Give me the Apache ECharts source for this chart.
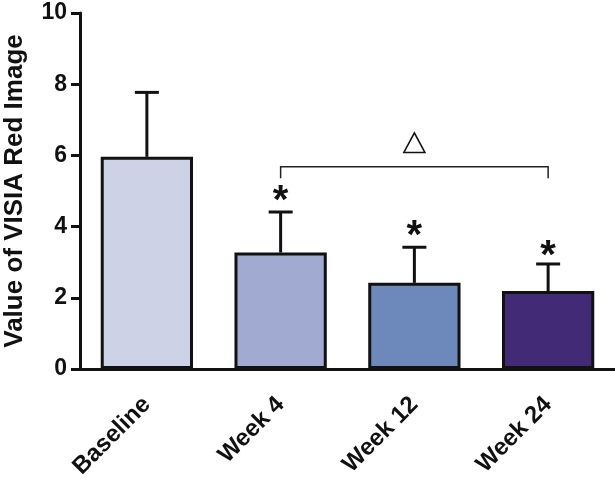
<!DOCTYPE html>
<html>
<head>
<meta charset="utf-8">
<script src="https://cdn.jsdelivr.net/npm/echarts@6/dist/echarts.min.js"></script>
<style>html,body{margin:0;padding:0;background:#fff}#c{width:615px;height:480px}</style>
</head>
<body>
<div id="c"></div>
<script>
const categories = ['Baseline', 'Week 4', 'Week 12', 'Week 24'];
const means = [5.96, 3.27, 2.42, 2.19];
const upperSD = [7.77, 4.41, 3.42, 2.95];
const barColors = ['#cdd2e7', '#a1aad0', '#6d88bb', '#432a76'];
const starIndex = [1, 2, 3];
const starY = [4.69, 3.70, 3.14];
const bracketFrom = 1, bracketTo = 3;
const bracketLevel = 5.68, bracketDrop = 5.36;
const triangleX = 2, triangleY = 6.35;
const yTicks = [0, 2, 4, 6, 8, 10];

const FONT = '"Liberation Sans", Arial, sans-serif';
const chart = echarts.init(document.getElementById('c'));

chart.setOption({
  animation: false,
  grid: { left: 80, right: 0, top: 13, bottom: 111, containLabel: false, outerBoundsMode: 'none' },
  xAxis: {
    type: 'category',
    data: categories,
    axisLine: { lineStyle: { color: '#111', width: 3 } },
    axisTick: { alignWithLabel: true, length: 9, lineStyle: { color: '#111', width: 3 } },
    axisLabel: { rotate: 45, margin: 32, color: '#111', fontSize: 24, fontWeight: 'bold', fontFamily: FONT }
  },
  yAxis: {
    type: 'value',
    min: yTicks[0], max: yTicks[yTicks.length - 1], interval: 2,
    name: 'Value of VISIA Red Image',
    nameLocation: 'middle',
    nameGap: 52,
    nameTextStyle: { color: '#111', fontSize: 26, fontWeight: 'bold', fontFamily: FONT },
    splitLine: { show: false },
    axisLine: { show: true, lineStyle: { color: '#111', width: 3 } },
    axisTick: { show: true, length: 9, lineStyle: { color: '#111', width: 3 } },
    axisLabel: { margin: 13, color: '#111', fontSize: 23, fontWeight: 'bold', fontFamily: FONT }
  },
  series: [
    {
      type: 'bar',
      barWidth: '69%',
      data: means.map((v, i) => ({ value: v, itemStyle: { color: barColors[i] } })),
      itemStyle: { borderColor: '#111', borderWidth: 3 },
      z: 2
    },
    {
      type: 'custom',
      z: 3,
      data: means.map((m, i) => [i, m, upperSD[i]]),
      renderItem: function (params, api) {
        const p1 = api.coord([api.value(0), api.value(1)]);
        const p2 = api.coord([api.value(0), api.value(2)]);
        const st = { stroke: '#111', lineWidth: 3 };
        return {
          type: 'group',
          children: [
            { type: 'line', shape: { x1: p1[0], y1: p1[1], x2: p2[0], y2: p2[1] }, style: st },
            { type: 'line', shape: { x1: p2[0] - 12, y1: p2[1], x2: p2[0] + 12, y2: p2[1] }, style: st }
          ]
        };
      }
    },
    {
      type: 'custom',
      z: 3,
      data: starIndex.map((c, i) => [c, starY[i]]),
      renderItem: function (params, api) {
        const p = api.coord([api.value(0), api.value(1)]);
        return {
          type: 'text', x: p[0], y: p[1],
          style: { text: '*', fill: '#111', font: 'bold 40px ' + FONT, textAlign: 'center', textVerticalAlign: 'middle' }
        };
      }
    },
    {
      type: 'custom',
      z: 3,
      data: [[bracketFrom, bracketTo, bracketLevel, bracketDrop]],
      renderItem: function (params, api) {
        const a = api.coord([api.value(0), api.value(3)]);
        const b = api.coord([api.value(0), api.value(2)]);
        const c = api.coord([api.value(1), api.value(2)]);
        const d = api.coord([api.value(1), api.value(3)]);
        return {
          type: 'polyline',
          shape: { points: [a, b, c, d] },
          style: { stroke: '#222', lineWidth: 1.5, fill: null }
        };
      }
    },
    {
      type: 'custom',
      z: 3,
      data: [[triangleX, triangleY]],
      renderItem: function (params, api) {
        const p = api.coord([api.value(0), api.value(1)]);
        return {
          type: 'polygon',
          shape: { points: [[p[0], p[1] - 10], [p[0] + 10.5, p[1] + 9.5], [p[0] - 10.5, p[1] + 9.5]] },
          style: { stroke: '#111', lineWidth: 1.6, fill: '#fff' }
        };
      }
    }
  ]
});
</script>
</body>
</html>
